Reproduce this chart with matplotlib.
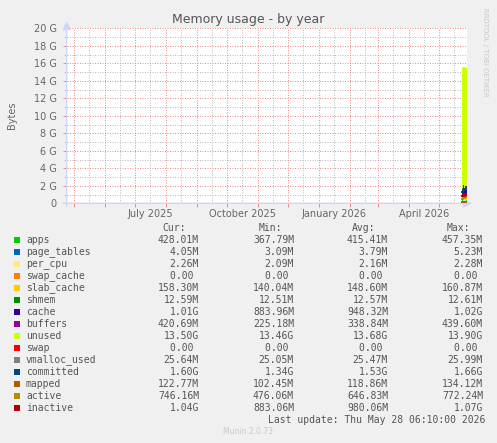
from datetime import datetime, timedelta

import matplotlib
matplotlib.use("Agg")
import matplotlib.pyplot as plt
from matplotlib.patches import Rectangle

W, H = 497, 443

# day boundaries of the samples; the last one is the last update
edges = [datetime(2026, 5, 24), datetime(2026, 5, 25), datetime(2026, 5, 26),
         datetime(2026, 5, 27), datetime(2026, 5, 28, 6, 10)]
end = datetime(2026, 5, 28, 6, 10)
start = end - timedelta(days=400)

# daily values in MiB (stacked areas)
apps = [367.79, 457.35, 408.5, 428.01]
page_tables = [3.09, 5.23, 3.4, 4.05]
per_cpu = [2.09, 2.28, 2.1, 2.26]
swap_cache = [0.0, 0.0, 0.0, 0.0]
slab_cache = [140.04, 160.87, 145.1, 158.30]
shmem = [12.51, 12.61, 12.57, 12.59]
cache = [883.96, 1044.5, 890.0, 1034.2]
buffers = [225.18, 439.60, 270.0, 420.69]
unused = [14233.6, 13783.0, 14192.6, 13824.0]

# daily values in MiB (lines)
swap = [0.0, 0.0, 0.0, 0.0]
vmalloc_used = [25.05, 25.99, 25.2, 25.64]
committed = [1372.2, 1699.8, 1556.5, 1638.4]
mapped = [102.45, 134.12, 116.1, 122.77]
active = [476.06, 772.24, 592.9, 746.16]
inactive = [883.06, 1095.7, 903.0, 1065.0]

names = ["apps", "page_tables", "per_cpu", "swap_cache", "slab_cache", "shmem",
         "cache", "buffers", "unused", "swap", "vmalloc_used", "committed",
         "mapped", "active", "inactive"]
colors = ["#00CC00", "#0066B3", "#FFE680", "#FF8000", "#FFCC00", "#008F00",
          "#330099", "#990099", "#CCFF00", "#FF0000", "#808080", "#00487D",
          "#B35A00", "#B38F00", "#B30000"]
cur = ["428.01M", "4.05M", "2.26M", "0.00 ", "158.30M", "12.59M", "1.01G",
       "420.69M", "13.50G", "0.00 ", "25.64M", "1.60G", "122.77M", "746.16M", "1.04G"]
vmin = ["367.79M", "3.09M", "2.09M", "0.00 ", "140.04M", "12.51M", "883.96M",
        "225.18M", "13.46G", "0.00 ", "25.05M", "1.34G", "102.45M", "476.06M", "883.06M"]
vavg = ["415.41M", "3.79M", "2.16M", "0.00 ", "148.60M", "12.57M", "948.32M",
        "338.84M", "13.68G", "0.00 ", "25.47M", "1.53G", "118.86M", "646.83M", "980.06M"]
vmax = ["457.35M", "5.23M", "2.28M", "0.00 ", "160.87M", "12.61M", "1.02G",
        "439.60M", "13.90G", "0.00 ", "25.99M", "1.66G", "134.12M", "772.24M", "1.07G"]

areas = [apps, page_tables, per_cpu, swap_cache, slab_cache, shmem, cache, buffers, unused]
lines = [swap, vmalloc_used, committed, mapped, active, inactive]

FONT = "#666666"
AXIS = "#CFD6F8"
MGRID = "#E88E8E"
GRID = "#BDBDBD"
DOTS = (0, (1, 1.5))


def fx(x):
    return x / W


def fy(y):
    return 1 - y / H


fig = plt.figure(figsize=(W / 100, H / 100), dpi=100, facecolor="#F0F0F0")
ax = fig.add_axes([fx(66.7), fy(203.3), 400 / W, 175 / H])
ax.set_facecolor("white")
for s in ax.spines.values():
    s.set_visible(False)

ax.set_xlim(start, end)
ax.set_ylim(0, 20)

# grid
for g in range(1, 21):
    ax.axhline(g, color=MGRID if g % 2 == 0 else GRID, lw=0.72, ls=DOTS, zorder=1)
months = []
d = datetime(2025, 5, 1)
while d < end:
    months.append(d)
    d = datetime(d.year + d.month // 12, d.month % 12 + 1, 1)
for m in months:
    ax.axvline(m, color=MGRID, lw=0.72, ls=DOTS, zorder=1)
    mid = m + timedelta(days=15)
    if mid < end:
        ax.axvline(mid, color=GRID, lw=0.72, ls=DOTS, zorder=1)

# stacked areas
bottom = [0.0] * 4
for vals, c in zip(areas, colors[:9]):
    top = [b + v / 1024 for b, v in zip(bottom, vals)]
    ax.fill_between(edges, bottom + bottom[-1:], top + top[-1:], step="post",
                    color=c, lw=0, zorder=3)
    bottom = top

# lines
for vals, c in zip(lines, colors[9:]):
    y = [v / 1024 for v in vals]
    ax.step(edges, y + y[-1:], where="post", color=c, lw=1.4, zorder=4)

# ticks
ax.set_yticks(range(0, 21, 2))
ax.set_yticklabels(["0"] + [f"{v} G" for v in range(2, 21, 2)])
ax.set_yticks(range(1, 21, 2), minor=True)
ax.tick_params(axis="y", which="major", length=3, width=0.72, color=MGRID,
               labelsize=7, labelcolor=FONT, pad=4)
ax.tick_params(axis="y", which="minor", length=2, width=0.72, color=GRID)

ax.set_xticks(months)
ax.set_xticklabels([])
label_pos = [datetime(2025, 7, 16), datetime(2025, 10, 16),
             datetime(2026, 1, 16), datetime(2026, 4, 16)]
ax.set_xticks(label_pos, minor=True)
ax.set_xticklabels(["July 2025", "October 2025", "January 2026", "April 2026"],
                   minor=True)
ax.tick_params(axis="x", which="major", length=3, width=0.72, color=MGRID)
ax.tick_params(axis="x", which="minor", length=0, labelsize=7,
               labelcolor=FONT, pad=4)

# axes with arrows
ax.annotate("", xy=(fx(472), fy(203.3)), xytext=(fx(63), fy(203.3)),
            xycoords="figure fraction",
            arrowprops=dict(arrowstyle="-|>,head_length=0.5,head_width=0.25",
                            color=AXIS, lw=1, shrinkA=0, shrinkB=0))
ax.annotate("", xy=(fx(66.7), fy(21)), xytext=(fx(66.7), fy(206)),
            xycoords="figure fraction",
            arrowprops=dict(arrowstyle="-|>,head_length=0.5,head_width=0.25",
                            color=AXIS, lw=1, shrinkA=0, shrinkB=0))

# texts
fig.text(fx(248), fy(20), "Memory usage - by year", ha="center", va="center",
         fontsize=9, color="#555555")
fig.text(fx(12), fy(115), "Bytes", rotation=90, ha="center", va="center",
         fontsize=7, color=FONT)
fig.text(fx(485), fy(52), "RRDTOOL / TOBI OETIKER", rotation=270, ha="center",
         va="center", fontsize=5, color="#C8C8C8")
fig.text(fx(248), fy(432), "Munin 2.0.73", ha="center", va="center",
         fontsize=5.5, color="#C8C8C8")

mono = dict(family="DejaVu Sans Mono", fontsize=7, color="#555555", va="center")
for x, h in zip([186, 282, 375, 470], ["Cur:", "Min:", "Avg:", "Max:"]):
    fig.text(fx(x), fy(228), h, ha="right", **mono)
for i, name in enumerate(names):
    y = 240 + 12 * i
    fig.patches.append(Rectangle((fx(14), fy(y + 3)), 6 / W, 6 / H,
                                 transform=fig.transFigure, facecolor=colors[i],
                                 edgecolor="none"))
    fig.text(fx(26), fy(y), name, ha="left", **mono)
    for x, col in zip([199, 294, 388, 483], [cur, vmin, vavg, vmax]):
        fig.text(fx(x), fy(y), col[i], ha="right", **mono)
fig.text(fx(485), fy(420), "Last update: Thu May 28 06:10:00 2026", ha="right", **mono)

fig.savefig("out.png", dpi=100, facecolor=fig.get_facecolor())
